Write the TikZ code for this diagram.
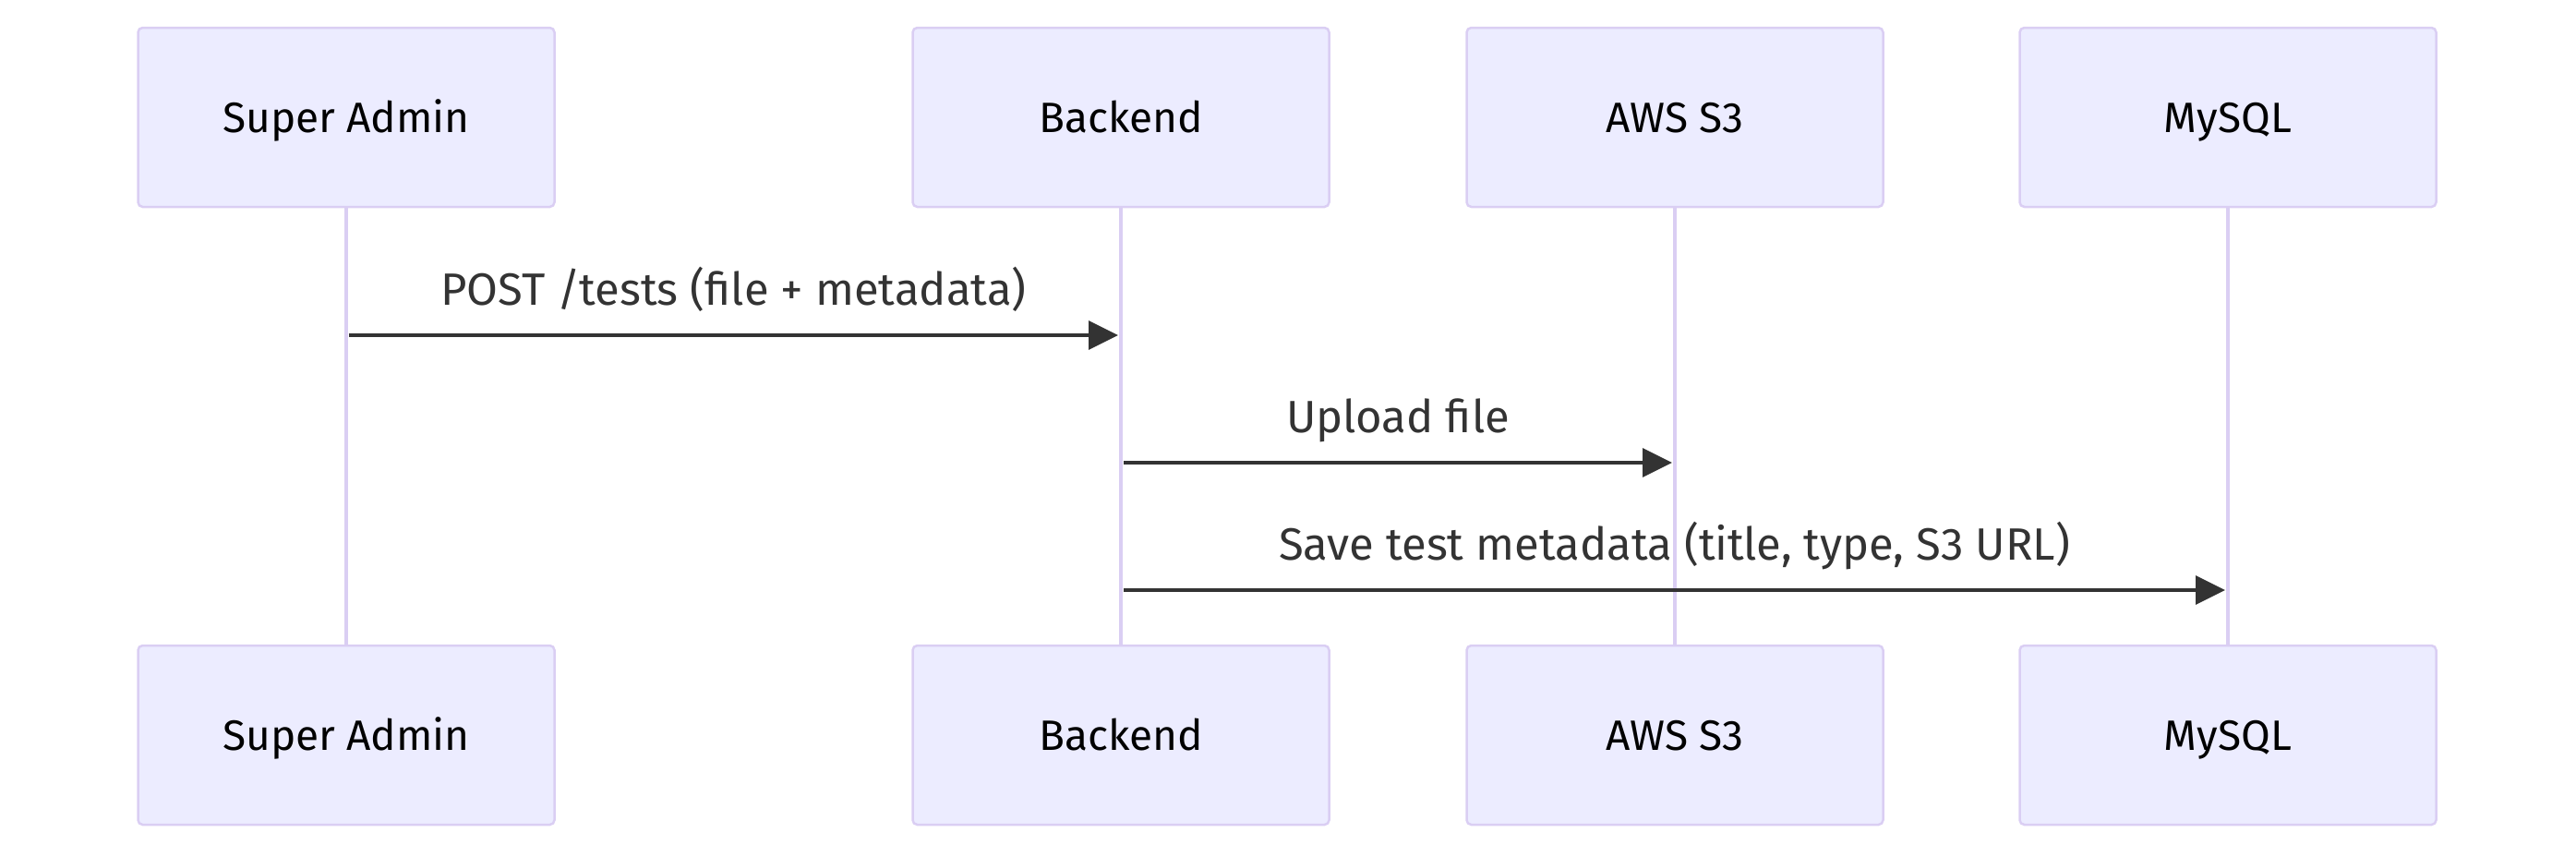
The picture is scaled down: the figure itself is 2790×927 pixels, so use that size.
\documentclass[tikz,border=0pt]{standalone}
\usepackage{fontspec}
\setmainfont{Fira Sans}
\usetikzlibrary{arrows.meta}
\definecolor{actfill}{HTML}{ECECFF}
\definecolor{actline}{HTML}{DACEF3}
\definecolor{msg}{HTML}{333333}
\begin{document}
\begin{tikzpicture}[x=1pt,y=-1pt,
  actor/.style={draw=actline, fill=actfill, line width=2.5pt, rounded corners=5pt,
    minimum width=451pt, minimum height=194pt, inner sep=0pt,
    text height=32pt, text depth=0pt,
    font=\fontsize{46}{54}\selectfont, text=black},
  life/.style={draw=actline, line width=4.5pt},
  msgarrow/.style={draw=msg, line width=3.5pt, -{Triangle[length=32pt,width=31pt]}},
  msglabel/.style={font=\fontsize{49}{58}\selectfont, text=msg, anchor=base, yshift=33pt}]
\useasboundingbox (0,0) rectangle (2790,927);
\node[actor] (saT) at (375,127) {Super Admin};
\node[actor] (beT) at (1214,127) {Backend};
\node[actor] (s3T) at (1814,127) {AWS S3};
\node[actor] (dbT) at (2413,127) {MySQL};
\node[actor] (saB) at (375,796) {Super Admin};
\node[actor] (beB) at (1214,796) {Backend};
\node[actor] (s3B) at (1814,796) {AWS S3};
\node[actor] (dbB) at (2413,796) {MySQL};
\draw[life] (saT.south) -- (saB.north);
\draw[life] (beT.south) -- (beB.north);
\draw[life] (s3T.south) -- (s3B.north);
\draw[life] (dbT.south) -- (dbB.north);
\coordinate (m1) at (0,363);
\coordinate (m2) at (0,501);
\coordinate (m3) at (0,639);
\draw[msgarrow] ([xshift=3pt]saT.south |- m1) -- ([xshift=-3pt]beT.south |- m1)
  node[midway, msglabel] {POST /tests (file + metadata)};
\draw[msgarrow] ([xshift=3pt]beT.south |- m2) -- ([xshift=-3pt]s3T.south |- m2)
  node[midway, msglabel] {Upload file};
\draw[msgarrow] ([xshift=3pt]beT.south |- m3) -- ([xshift=-3pt]dbT.south |- m3)
  node[midway, msglabel] {Save test metadata (title, type, S3 URL)};
\end{tikzpicture}
\end{document}
